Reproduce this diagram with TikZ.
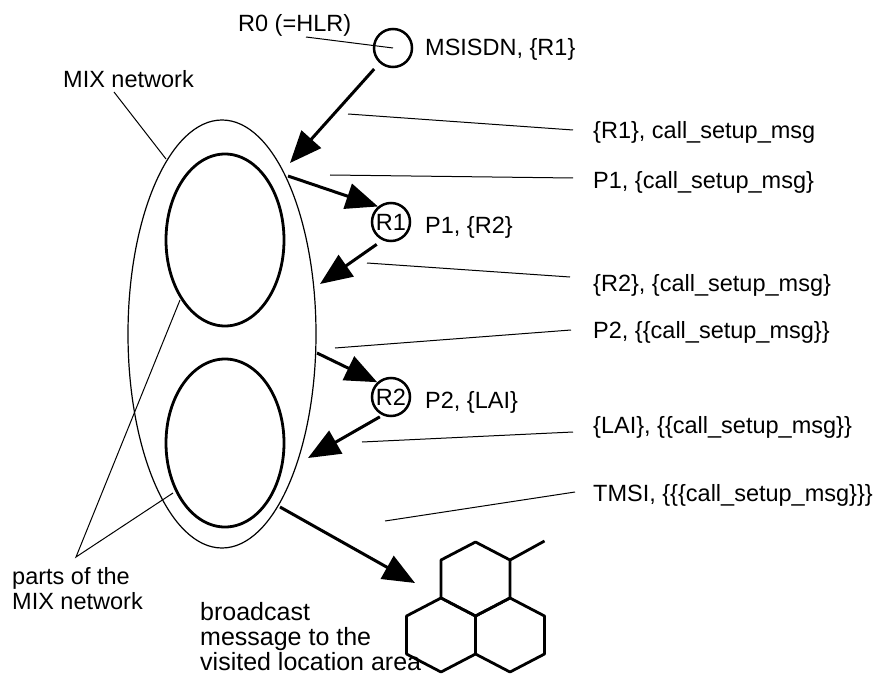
\documentclass[tikz,border=0pt]{standalone}
\usepackage{fontspec}
\setmainfont{Liberation Sans}
\usetikzlibrary{arrows.meta,shapes.geometric}
\tikzset{
  lbl/.style={anchor=base west,inner sep=0pt},
  rtr/.style={draw,circle,line width=2.5pt,minimum size=38pt,inner sep=0pt},
  msg/.style={line width=3pt,-{Triangle[length=32pt,width=26pt]}},
  lead/.style={line width=1pt},
  part/.style={draw,ellipse,line width=2.8pt,minimum width=118pt,minimum height=172pt,inner sep=0pt},
  hex/.style={line width=2.8pt,line join=round},
}
\begin{document}
\begin{tikzpicture}[x=1pt,y=-1pt,font=\fontsize{23.5}{25}\selectfont]
  \useasboundingbox (0,0) rectangle (880,679);
  % mix network and its parts
  \node[draw,ellipse,line width=1.2pt,minimum width=188pt,minimum height=428pt,inner sep=0pt] (mix) at (222,334) {};
  \node[part] (p1) at (225,240) {};
  \node[part,minimum height=168pt] (p2) at (225,443) {};
  % routers
  \node[rtr] (r0) at (393,48) {};
  \node[rtr] (r1) at (391,222) {R1};
  \node[rtr] (r2) at (391,397) {R2};
  % texts
  \node[lbl] (r0l) at (238,32) {R0 (=HLR)};
  \node[lbl] (m0) at (425,56) {MSISDN, \{R1\}};
  \node[lbl] (mixl) at (63,88) {MIX network};
  \node[lbl] (m1) at (593,139) {\{R1\}, call\_setup\_msg};
  \node[lbl] (m2) at (593,189) {P1, \{call\_setup\_msg\}};
  \node[lbl] (m3) at (425,233) {P1, \{R2\}};
  \node[lbl] (m4) at (593,291) {\{R2\}, \{call\_setup\_msg\}};
  \node[lbl] (m5) at (593,338) {P2, \{\{call\_setup\_msg\}\}};
  \node[lbl] (m6) at (425,408) {P2, \{LAI\}};
  \node[lbl] (m7) at (593,433) {\{LAI\}, \{\{call\_setup\_msg\}\}};
  \node[lbl] (m8) at (593,501) {TMSI, \{\{\{call\_setup\_msg\}\}\}};
  \node[lbl,anchor=north west,align=left] (partl) at (12,567) {parts of the\\MIX network};
  \node[lbl,anchor=north west,align=left,font=\fontsize{25}{25}\selectfont] (bcl) at (200,602) {broadcast\\message to the\\visited location area};
  % leader lines
  \begin{scope}[lead]
    \coordinate (a0) at (306,37);
    \draw (a0) -- (r0.center);
    \coordinate (a1) at (114,92);
    \coordinate (b1) at (166,159);
    \draw (a1) -- (b1);
    \coordinate (a2) at (76,557);
    \coordinate (b2) at (180,300);
    \coordinate (c2) at (173,493);
    \draw (b2) -- (a2) -- (c2);
    \coordinate (l1a) at (348,114);
    \coordinate (l1b) at (573,130);
    \draw (l1a) -- (l1b);
    \coordinate (l2a) at (330,175);
    \coordinate (l2b) at (573,178);
    \draw (l2a) -- (l2b);
    \coordinate (l3a) at (367,263);
    \coordinate (l3b) at (570,277);
    \draw (l3a) -- (l3b);
    \coordinate (l4a) at (335,348);
    \coordinate (l4b) at (571,330);
    \draw (l4a) -- (l4b);
    \coordinate (l5a) at (362,442);
    \coordinate (l5b) at (573,432);
    \draw (l5a) -- (l5b);
    \coordinate (l6a) at (385,521);
    \coordinate (l6b) at (575,492);
    \draw (l6a) -- (l6b);
  \end{scope}
  % messages
  \coordinate (t0) at (290,163);
  \draw[msg,shorten <=8pt] (r0) -- (t0);
  \coordinate (s1) at (288,176);
  \draw[msg] (s1) -- (r1.130);
  \coordinate (t1) at (320,284);
  \draw[msg,shorten <=7pt] (r1.245) -- (t1);
  \coordinate (s2) at (317,353);
  \draw[msg] (s2) -- (r2.133);
  \coordinate (t2) at (308,458);
  \draw[msg,shorten <=3pt] (r2.245) -- (t2);
  \coordinate (s3) at (280,507);
  \coordinate (t3) at (415,583);
  \draw[msg] (s3) -- (t3);
  % location area cells
  \foreach \cx/\cy in {475.5/579, 441/635, 510/635}
    \draw[hex,shift={(\cx,\cy)}] (0,-37) -- (34.5,-19) -- (34.5,19) -- (0,37) -- (-34.5,19) -- (-34.5,-19) -- cycle;
  \draw[hex] (510,560) -- (544.5,541);
\end{tikzpicture}
\end{document}
